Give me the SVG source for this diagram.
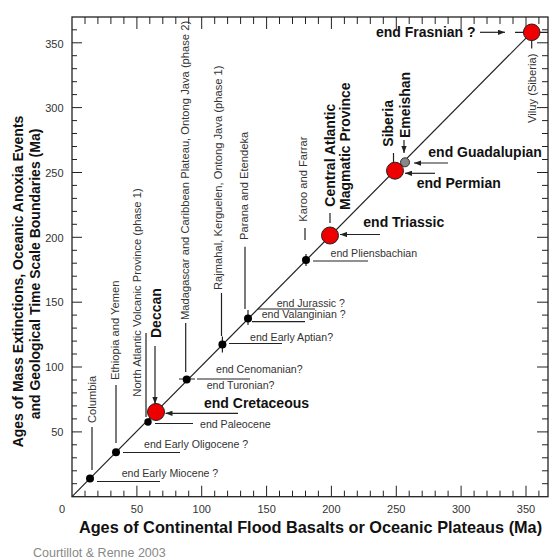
<svg xmlns="http://www.w3.org/2000/svg" width="550" height="559" viewBox="0 0 550 559">
<defs>
<style>
.frame{fill:none;stroke:#222;stroke-width:1.3}
.tick{fill:none;stroke:#222;stroke-width:1}
.ln{fill:none;stroke:#222;stroke-width:1.2}
.arr{fill:none;stroke:#222;stroke-width:1.2;marker-end:url(#ah)}
.lbl{font-family:"Liberation Sans",Arial,sans-serif;font-size:10.6px;fill:#333}
.rl{font-family:"Liberation Sans",Arial,sans-serif;font-size:11.2px;fill:#333}
.big{font-family:"Liberation Sans",Arial,sans-serif;font-size:14px;font-weight:bold;fill:#111}
.num{font-family:"Liberation Sans",Arial,sans-serif;font-size:11px;fill:#333}
.dot{fill:#000}
.red{fill:#ee0000;stroke:#222;stroke-width:1}
.gray{fill:#888;stroke:#333;stroke-width:1}
</style>
<marker id="ah" viewBox="0 0 8 6" markerWidth="7" markerHeight="5.5" refX="8" refY="3" orient="auto" markerUnits="userSpaceOnUse">
<path d="M0,0L8,3L0,6z" fill="#222"/>
</marker>
</defs>
<rect width="550" height="559" fill="#fff"/>

<g id="axes">
<rect class="frame" x="72" y="17" width="476" height="479.7"/>
<path class="tick" d="M85,496.7v-6M97.9,496.7v-6M110.9,496.7v-6M123.9,496.7v-6M136.9,496.7v-11M149.8,496.7v-6M162.8,496.7v-6M175.8,496.7v-6M188.7,496.7v-6M201.7,496.7v-11M214.7,496.7v-6M227.6,496.7v-6M240.6,496.7v-6M253.6,496.7v-6M266.6,496.7v-11M279.5,496.7v-6M292.5,496.7v-6M305.5,496.7v-6M318.4,496.7v-6M331.4,496.7v-11M344.4,496.7v-6M357.3,496.7v-6M370.3,496.7v-6M383.3,496.7v-6M396.3,496.7v-11M409.2,496.7v-6M422.2,496.7v-6M435.2,496.7v-6M448.1,496.7v-6M461.1,496.7v-11M474.1,496.7v-6M487,496.7v-6M500,496.7v-6M513,496.7v-6M526,496.7v-11M538.9,496.7v-6"/>
<path class="tick" d="M85,17v7M97.9,17v7M110.9,17v7M123.9,17v7M136.9,17v12M149.8,17v7M162.8,17v7M175.8,17v7M188.7,17v7M201.7,17v12M214.7,17v7M227.6,17v7M240.6,17v7M253.6,17v7M266.6,17v12M279.5,17v7M292.5,17v7M305.5,17v7M318.4,17v7M331.4,17v12M344.4,17v7M357.3,17v7M370.3,17v7M383.3,17v7M396.3,17v12M409.2,17v7M422.2,17v7M435.2,17v7M448.1,17v7M461.1,17v12M474.1,17v7M487,17v7M500,17v7M513,17v7M526,17v12M538.9,17v7"/>
<path class="tick" d="M72,483.7h5M72,470.8h5M72,457.8h5M72,444.8h5M72,431.9h10M72,418.9h5M72,405.9h5M72,392.9h5M72,380h5M72,367h10M72,354h5M72,341.1h5M72,328.1h5M72,315.1h5M72,302.2h10M72,289.2h5M72,276.2h5M72,263.2h5M72,250.3h5M72,237.3h10M72,224.3h5M72,211.4h5M72,198.4h5M72,185.4h5M72,172.5h10M72,159.5h5M72,146.5h5M72,133.5h5M72,120.6h5M72,107.6h10M72,94.6h5M72,81.7h5M72,68.7h5M72,55.7h5M72,42.8h10M72,29.8h5"/>
<path class="tick" d="M548,483.7h-6M548,470.8h-6M548,457.8h-6M548,444.8h-6M548,431.9h-11M548,418.9h-6M548,405.9h-6M548,392.9h-6M548,380h-6M548,367h-11M548,354h-6M548,341.1h-6M548,328.1h-6M548,315.1h-6M548,302.2h-11M548,289.2h-6M548,276.2h-6M548,263.2h-6M548,250.3h-6M548,237.3h-11M548,224.3h-6M548,211.4h-6M548,198.4h-6M548,185.4h-6M548,172.5h-11M548,159.5h-6M548,146.5h-6M548,133.5h-6M548,120.6h-6M548,107.6h-11M548,94.6h-6M548,81.7h-6M548,68.7h-6M548,55.7h-6M548,42.8h-11M548,29.8h-6"/>
<g class="num" text-anchor="middle">
<text x="62" y="512.5">0</text>
<text x="136.9" y="512.5">50</text>
<text x="201.7" y="512.5">100</text>
<text x="266.6" y="512.5">150</text>
<text x="331.4" y="512.5">200</text>
<text x="396.3" y="512.5">250</text>
<text x="461.1" y="512.5">300</text>
<text x="526" y="512.5">350</text>
</g>
<g class="num" text-anchor="end">
<text x="63.5" y="436">50</text>
<text x="63.5" y="371">100</text>
<text x="63.5" y="306.3">150</text>
<text x="63.5" y="241.5">200</text>
<text x="63.5" y="176.6">250</text>
<text x="63.5" y="111.8">300</text>
<text x="63.5" y="47.5">350</text>
</g>
<text class="big" style="font-size:16.3px" text-anchor="middle" x="310.5" y="533">Ages of Continental Flood Basalts or Oceanic Plateaus (Ma)</text>
<text class="big" text-anchor="middle" transform="translate(23,281.5) rotate(-90)">Ages of Mass Extinctions, Oceanic Anoxia Events</text>
<text class="big" text-anchor="middle" transform="translate(40,274) rotate(-90)">and Geological Time Scale Boundaries (Ma)</text>
</g>

<g id="connectors">
<path class="ln" d="M72,496.7L531.7,32.3"/>
<path class="ln" d="M92,427V470M97,481.5H160"/>
<path class="ln" d="M116,385V443M123,452.5H180"/>
<path class="ln" d="M146,333V417M155,423.5H193"/>
<path class="arr" d="M155,346V404"/>
<path class="arr" d="M238,413.3H165.5"/>
<path class="ln" d="M185.7,323V372M179,379H195M197,379H250"/>
<path class="ln" d="M221.5,293V336M222.4,336.5v16M229,343.5H282"/>
<path class="ln" d="M245,246.7V309M248,310v15M252,321.7H305M258,309H315"/>
<path class="ln" d="M305,228V240M306,254v12M313,261H368"/>
<path class="ln" d="M330,213V223"/>
<path class="arr" d="M380,234.5H340"/>
<path class="ln" d="M393.5,153V162"/>
<path class="arr" d="M404,140V153"/>
<path class="arr" d="M448,163H414"/>
<path class="arr" d="M435,173.3H405"/>
<path class="arr" d="M480,32.3H505"/>
<path class="ln" d="M515,32.3H548M531.7,32.3V48.5"/>
</g>

<g id="columbia">
<circle class="dot" cx="90" cy="478.5" r="4"/>
<text class="rl" transform="translate(96,423) rotate(-90)">Columbia</text>
<text class="lbl" x="121.7" y="477">end Early Miocene ?</text>
</g>
<g id="ethiopia">
<circle class="dot" cx="116" cy="452.3" r="4"/>
<text class="rl" transform="translate(119.2,380) rotate(-90)">Ethiopia and Yemen</text>
<text class="lbl" x="144" y="447.7">end Early Oligocene ?</text>
</g>
<g id="navp">
<circle class="dot" cx="148" cy="422" r="3.7"/>
<text class="rl" transform="translate(140.7,396.7) rotate(-90)">North Atlantic Volcanic Province (phase 1)</text>
<text class="lbl" x="200" y="427.5">end Paleocene</text>
</g>
<g id="deccan">
<circle class="red" cx="156" cy="412" r="8.5"/>
<text class="big" transform="translate(161,338) rotate(-90)">Deccan</text>
<text class="big" x="204" y="408">end Cretaceous</text>
</g>
<g id="madagascar">
<circle class="dot" cx="186.7" cy="379.5" r="4"/>
<text class="rl" transform="translate(188.7,320) rotate(-90)">Madagascar and Caribbean Plateau, Ontong Java (phase 2)</text>
<text class="lbl" x="216" y="372.7">end Cenomanian?</text>
<text class="lbl" x="206.7" y="389.3">end Turonian?</text>
</g>
<g id="rajmahal">
<circle class="dot" cx="222.4" cy="344.5" r="4"/>
<text class="rl" transform="translate(222.2,290) rotate(-90)">Rajmahal, Kerguelen, Ontong Java (phase 1)</text>
<text class="lbl" x="250" y="340.7">end Early Aptian?</text>
</g>
<g id="parana">
<circle class="dot" cx="248" cy="318.5" r="4"/>
<text class="rl" transform="translate(248.2,240) rotate(-90)">Parana and Etendeka</text>
<text class="lbl" x="276.7" y="306.7">end Jurassic ?</text>
<text class="lbl" x="261.7" y="318.3">end Valanginian ?</text>
</g>
<g id="karoo">
<circle class="dot" cx="306" cy="260" r="4"/>
<text class="rl" transform="translate(307.2,221.7) rotate(-90)">Karoo and Farrar</text>
<text class="lbl" x="330.5" y="256.7">end Pliensbachian</text>
</g>
<g id="camp">
<circle class="red" cx="330" cy="235.5" r="8.5"/>
<text class="big" transform="translate(335,206.7) rotate(-90)">Central Atlantic</text>
<text class="big" transform="translate(350,210) rotate(-90)">Magmatic Province</text>
<text class="big" x="363.3" y="226.7">end Triassic</text>
</g>
<g id="emeishan">
<circle class="gray" cx="405" cy="162.3" r="4.5"/>
<text class="big" transform="translate(410,138) rotate(-90)">Emeishan</text>
<text class="big" x="428.3" y="156.7">end Guadalupian</text>
</g>
<g id="siberia">
<circle class="red" cx="395" cy="170.7" r="8.5"/>
<text class="big" transform="translate(392.5,146.7) rotate(-90)">Siberia</text>
<text class="big" x="416.7" y="188">end Permian</text>
</g>
<g id="viluy">
<circle class="red" cx="531.7" cy="32.3" r="8.3"/>
<text class="rl" transform="translate(535.7,123) rotate(-90)">Viluy (Siberia)</text>
<text class="big" x="376" y="37">end Frasnian ?</text>
</g>

<text x="33" y="557" font-family="Liberation Sans, Arial, sans-serif" font-size="12.5" fill="#888">Courtillot &amp; Renne 2003</text>
</svg>
